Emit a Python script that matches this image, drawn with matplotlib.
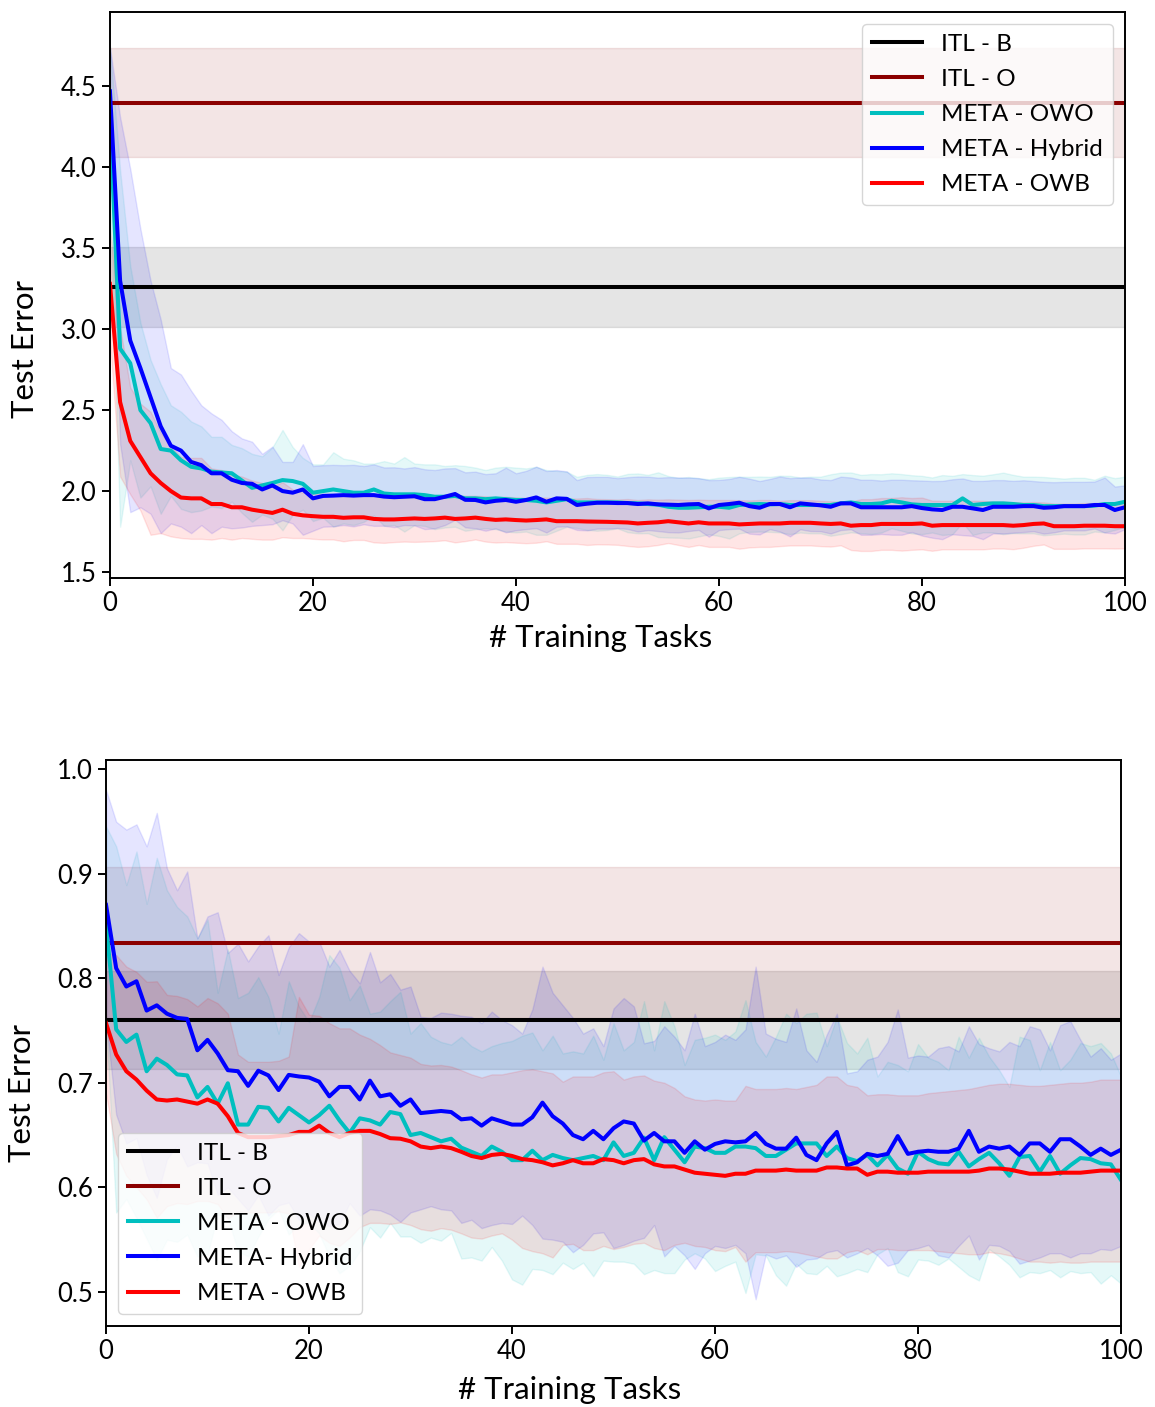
import matplotlib
matplotlib.use('agg')
import matplotlib.pyplot as plt

# number of training tasks
tasks = list(range(101))

# ---- top panel ----
top_itl_b, top_itl_b_std = 3.26, 0.245
top_itl_o, top_itl_o_std = 4.40, 0.335

top_owo_mean = [4.30, 2.88, 2.79, 2.50, 2.42, 2.26, 2.25, 2.19, 2.15, 2.14,
                2.12, 2.115, 2.11, 2.065, 2.02, 2.035, 2.05, 2.068, 2.062, 2.045,
                1.99, 2.0, 2.01, 2.0, 1.99, 1.99, 2.01, 1.985, 1.98, 1.98,
                1.98, 1.975, 1.965, 1.965, 1.97, 1.955, 1.955, 1.95, 1.955, 1.95,
                1.945, 1.945, 1.94, 1.93, 1.94, 1.95, 1.93, 1.93, 1.93, 1.93,
                1.93, 1.926, 1.924, 1.92, 1.916, 1.903, 1.897, 1.897, 1.9, 1.903,
                1.903, 1.897, 1.914, 1.918, 1.92, 1.918, 1.92, 1.914, 1.914, 1.914,
                1.914, 1.914, 1.924, 1.93, 1.92, 1.92, 1.924, 1.94, 1.93, 1.918,
                1.914, 1.914, 1.914, 1.914, 1.955, 1.914, 1.92, 1.924, 1.924, 1.92,
                1.914, 1.914, 1.907, 1.907, 1.907, 1.907, 1.907, 1.91, 1.92, 1.92,
                1.934]
top_owo_std = [0.45, 1.1, 0.6, 0.54, 0.39, 0.40, 0.28, 0.30, 0.28, 0.26,
               0.215, 0.22, 0.175, 0.2, 0.21, 0.18, 0.22, 0.31, 0.21, 0.16,
               0.175, 0.165, 0.23, 0.2, 0.2, 0.18, 0.16, 0.2, 0.19, 0.23,
               0.19, 0.19, 0.2, 0.19, 0.19, 0.2, 0.19, 0.18, 0.19, 0.2,
               0.2, 0.195, 0.21, 0.2, 0.185, 0.17, 0.158, 0.17, 0.175, 0.17,
               0.16, 0.18, 0.185, 0.18, 0.2, 0.19, 0.185, 0.19, 0.18, 0.17,
               0.18, 0.19, 0.175, 0.17, 0.17, 0.17, 0.175, 0.18, 0.17, 0.175,
               0.175, 0.19, 0.19, 0.185, 0.18, 0.185, 0.18, 0.17, 0.175, 0.18,
               0.18, 0.17, 0.185, 0.18, 0.15, 0.185, 0.175, 0.18, 0.19, 0.18,
               0.175, 0.175, 0.18, 0.175, 0.17, 0.175, 0.175, 0.16, 0.175, 0.16,
               0.155]

top_hyb_mean = [4.47, 3.30, 2.93, 2.76, 2.58, 2.40, 2.28, 2.25, 2.18, 2.16,
                2.11, 2.11, 2.07, 2.05, 2.045, 2.01, 2.035, 2.0, 1.99, 2.01,
                1.955, 1.97, 1.972, 1.975, 1.972, 1.975, 1.975, 1.966, 1.962, 1.965,
                1.968, 1.95, 1.95, 1.965, 1.982, 1.946, 1.945, 1.93, 1.94, 1.945,
                1.934, 1.945, 1.961, 1.934, 1.955, 1.952, 1.914, 1.922, 1.928, 1.928,
                1.926, 1.926, 1.92, 1.924, 1.918, 1.916, 1.914, 1.918, 1.92, 1.893,
                1.914, 1.92, 1.928, 1.907, 1.897, 1.92, 1.92, 1.9, 1.924, 1.918,
                1.912, 1.903, 1.924, 1.924, 1.9, 1.9, 1.9, 1.9, 1.9, 1.907,
                1.895, 1.887, 1.883, 1.903, 1.903, 1.893, 1.883, 1.903, 1.903, 1.903,
                1.907, 1.907, 1.897, 1.9, 1.907, 1.907, 1.907, 1.914, 1.914, 1.883,
                1.9]
top_hyb_std = [0.27, 1.01, 1.06, 0.86, 0.72, 0.66, 0.48, 0.47, 0.44, 0.37,
               0.37, 0.33, 0.30, 0.275, 0.26, 0.22, 0.24, 0.18, 0.19, 0.28,
               0.2, 0.19, 0.19, 0.185, 0.19, 0.18, 0.19, 0.18, 0.185, 0.175,
               0.18, 0.185, 0.18, 0.175, 0.16, 0.17, 0.175, 0.175, 0.17, 0.2,
               0.176, 0.18, 0.19, 0.19, 0.175, 0.17, 0.154, 0.165, 0.16, 0.16,
               0.154, 0.16, 0.17, 0.165, 0.165, 0.17, 0.17, 0.165, 0.16, 0.175,
               0.155, 0.155, 0.16, 0.17, 0.165, 0.155, 0.17, 0.18, 0.16, 0.165,
               0.16, 0.165, 0.165, 0.16, 0.17, 0.17, 0.165, 0.17, 0.17, 0.16,
               0.17, 0.175, 0.18, 0.17, 0.175, 0.17, 0.18, 0.165, 0.165, 0.16,
               0.16, 0.155, 0.16, 0.155, 0.15, 0.15, 0.15, 0.145, 0.17, 0.145,
               0.135]

top_owb_mean = [3.28, 2.55, 2.31, 2.21, 2.11, 2.05, 2.00, 1.96, 1.955, 1.955,
                1.92, 1.92, 1.90, 1.90, 1.885, 1.875, 1.865, 1.885, 1.86, 1.85,
                1.845, 1.841, 1.841, 1.835, 1.838, 1.838, 1.828, 1.825, 1.825, 1.828,
                1.831, 1.828, 1.831, 1.836, 1.828, 1.831, 1.836, 1.828, 1.822, 1.825,
                1.821, 1.818, 1.821, 1.825, 1.814, 1.814, 1.814, 1.812, 1.811, 1.81,
                1.808, 1.806, 1.80, 1.804, 1.807, 1.814, 1.807, 1.80, 1.807, 1.80,
                1.80, 1.80, 1.794, 1.797, 1.80, 1.80, 1.80, 1.804, 1.804, 1.804,
                1.80, 1.797, 1.80, 1.786, 1.79, 1.79, 1.797, 1.797, 1.797, 1.797,
                1.80, 1.786, 1.79, 1.79, 1.79, 1.79, 1.79, 1.79, 1.79, 1.786,
                1.79, 1.797, 1.80, 1.783, 1.783, 1.783, 1.786, 1.786, 1.786, 1.783,
                1.783]
top_owb_std = [0.35, 0.46, 0.33, 0.33, 0.38, 0.31, 0.28, 0.25, 0.25, 0.25,
               0.22, 0.21, 0.2, 0.19, 0.18, 0.175, 0.165, 0.17, 0.15, 0.14,
               0.14, 0.14, 0.14, 0.145, 0.14, 0.14, 0.145, 0.145, 0.14, 0.14,
               0.145, 0.14, 0.14, 0.14, 0.145, 0.14, 0.135, 0.14, 0.14, 0.14,
               0.14, 0.14, 0.14, 0.135, 0.14, 0.14, 0.14, 0.145, 0.14, 0.14,
               0.14, 0.145, 0.145, 0.145, 0.14, 0.135, 0.14, 0.145, 0.14, 0.145,
               0.145, 0.145, 0.15, 0.145, 0.145, 0.145, 0.14, 0.14, 0.14, 0.14,
               0.14, 0.14, 0.135, 0.15, 0.16, 0.16, 0.16, 0.16, 0.165, 0.16,
               0.16, 0.155, 0.15, 0.15, 0.15, 0.15, 0.15, 0.145, 0.145, 0.145,
               0.14, 0.135, 0.13, 0.14, 0.14, 0.14, 0.14, 0.14, 0.14, 0.138,
               0.137]

# ---- bottom panel ----
bot_itl_b, bot_itl_b_std = 0.760, 0.047
bot_itl_o, bot_itl_o_std = 0.834, 0.072

bot_owo_mean = [0.852, 0.751, 0.739, 0.746, 0.711, 0.723, 0.717, 0.708, 0.707, 0.686,
                0.696, 0.680, 0.6995, 0.660, 0.660, 0.677, 0.676, 0.663, 0.676, 0.669,
                0.662, 0.669, 0.678, 0.664, 0.652, 0.666, 0.664, 0.660, 0.672, 0.670,
                0.650, 0.652, 0.648, 0.644, 0.6465, 0.638, 0.634, 0.630, 0.639, 0.634,
                0.626, 0.626, 0.635, 0.626, 0.631, 0.628, 0.626, 0.628, 0.630, 0.626,
                0.643, 0.630, 0.633, 0.6475, 0.626, 0.648, 0.636, 0.624, 0.639, 0.6375,
                0.633, 0.633, 0.639, 0.639, 0.6375, 0.630, 0.630, 0.636, 0.642, 0.642,
                0.642, 0.630, 0.639, 0.628, 0.625, 0.631, 0.621, 0.631, 0.618, 0.613,
                0.634, 0.627, 0.623, 0.622, 0.634, 0.620, 0.627, 0.633, 0.623, 0.611,
                0.629, 0.630, 0.615, 0.630, 0.613, 0.621, 0.628, 0.627, 0.623, 0.622,
                0.607]
bot_owo_std = [0.093, 0.175, 0.15, 0.175, 0.16, 0.192, 0.167, 0.16, 0.152, 0.152,
               0.16, 0.106, 0.128, 0.121, 0.126, 0.124, 0.106, 0.084, 0.121, 0.104,
               0.096, 0.113, 0.144, 0.146, 0.127, 0.127, 0.102, 0.108, 0.106, 0.117,
               0.097, 0.105, 0.096, 0.095, 0.09, 0.106, 0.101, 0.10, 0.096, 0.104,
               0.114, 0.119, 0.113, 0.105, 0.114, 0.10, 0.104, 0.10, 0.115, 0.096,
               0.114, 0.101, 0.106, 0.1305, 0.105, 0.13, 0.118, 0.093, 0.102, 0.1055,
               0.113, 0.108, 0.11, 0.14, 0.1015, 0.095, 0.114, 0.13, 0.115, 0.124,
               0.125, 0.105, 0.124, 0.11, 0.103, 0.112, 0.085, 0.089, 0.099, 0.098,
               0.103, 0.097, 0.097, 0.09, 0.11, 0.104, 0.116, 0.092, 0.089, 0.085,
               0.115, 0.111, 0.097, 0.109, 0.099, 0.101, 0.11, 0.108, 0.115, 0.106,
               0.099]

bot_hyb_mean = [0.870, 0.8095, 0.792, 0.797, 0.769, 0.774, 0.766, 0.762, 0.761, 0.731,
                0.741, 0.728, 0.712, 0.711, 0.697, 0.7115, 0.707, 0.693, 0.7075, 0.706,
                0.705, 0.701, 0.687, 0.696, 0.696, 0.684, 0.702, 0.687, 0.689, 0.678,
                0.684, 0.671, 0.672, 0.673, 0.672, 0.665, 0.666, 0.659, 0.666, 0.663,
                0.660, 0.660, 0.667, 0.681, 0.668, 0.661, 0.650, 0.646, 0.654, 0.646,
                0.6565, 0.663, 0.661, 0.6447, 0.652, 0.644, 0.644, 0.633, 0.644, 0.636,
                0.6415, 0.644, 0.643, 0.644, 0.652, 0.6415, 0.637, 0.637, 0.6475, 0.631,
                0.626, 0.642, 0.653, 0.621, 0.624, 0.632, 0.630, 0.632, 0.649, 0.632,
                0.634, 0.635, 0.634, 0.634, 0.637, 0.654, 0.634, 0.639, 0.637, 0.639,
                0.631, 0.642, 0.642, 0.634, 0.646, 0.646, 0.639, 0.631, 0.637, 0.631,
                0.636]
bot_hyb_std = [0.11, 0.14, 0.15, 0.15, 0.157, 0.184, 0.139, 0.122, 0.141, 0.107,
               0.118, 0.135, 0.112, 0.122, 0.119, 0.119, 0.134, 0.11, 0.122, 0.137,
               0.13, 0.134, 0.124, 0.131, 0.111, 0.111, 0.123, 0.109, 0.115, 0.111,
               0.108, 0.092, 0.09, 0.094, 0.094, 0.099, 0.097, 0.098, 0.102, 0.097,
               0.095, 0.087, 0.103, 0.13, 0.118, 0.113, 0.112, 0.101, 0.098, 0.089,
               0.1145, 0.118, 0.112, 0.093, 0.088, 0.11, 0.10, 0.098, 0.122, 0.099,
               0.0975, 0.102, 0.098, 0.107, 0.159, 0.1055, 0.105, 0.102, 0.1235, 0.10,
               0.094, 0.104, 0.113, 0.088, 0.087, 0.09, 0.095, 0.107, 0.121, 0.092,
               0.092, 0.09, 0.099, 0.101, 0.093, 0.10, 0.103, 0.094, 0.093, 0.10,
               0.104, 0.112, 0.109, 0.097, 0.109, 0.113, 0.102, 0.094, 0.096, 0.091,
               0.092]

bot_owb_mean = [0.757, 0.727, 0.711, 0.703, 0.6925, 0.684, 0.683, 0.684, 0.682, 0.680,
                0.684, 0.680, 0.668, 0.652, 0.648, 0.648, 0.648, 0.649, 0.650, 0.653,
                0.653, 0.659, 0.652, 0.648, 0.652, 0.654, 0.654, 0.651, 0.647, 0.6465,
                0.644, 0.639, 0.6375, 0.639, 0.6375, 0.634, 0.630, 0.628, 0.631, 0.632,
                0.630, 0.627, 0.626, 0.624, 0.621, 0.623, 0.626, 0.623, 0.623, 0.627,
                0.626, 0.623, 0.626, 0.627, 0.622, 0.620, 0.620, 0.617, 0.614, 0.613,
                0.612, 0.611, 0.613, 0.613, 0.616, 0.616, 0.616, 0.617, 0.616, 0.616,
                0.616, 0.619, 0.619, 0.618, 0.618, 0.612, 0.615, 0.615, 0.614, 0.614,
                0.614, 0.615, 0.615, 0.615, 0.615, 0.615, 0.616, 0.618, 0.618, 0.617,
                0.615, 0.613, 0.613, 0.613, 0.614, 0.614, 0.614, 0.615, 0.616, 0.616,
                0.616]
bot_owb_std = [0.067, 0.095, 0.10, 0.103, 0.104, 0.113, 0.101, 0.099, 0.098, 0.093,
               0.097, 0.096, 0.098, 0.075, 0.072, 0.072, 0.072, 0.072, 0.075, 0.129,
               0.112, 0.105, 0.105, 0.104, 0.10, 0.092, 0.088, 0.085, 0.082, 0.08,
               0.08, 0.079, 0.079, 0.078, 0.078, 0.078, 0.078, 0.077, 0.077, 0.076,
               0.08, 0.085, 0.087, 0.087, 0.088, 0.078, 0.08, 0.083, 0.083, 0.083,
               0.085, 0.08, 0.08, 0.08, 0.08, 0.08, 0.075, 0.07, 0.07, 0.07,
               0.072, 0.072, 0.07, 0.084, 0.078, 0.078, 0.078, 0.078, 0.078, 0.08,
               0.082, 0.087, 0.087, 0.08, 0.078, 0.076, 0.074, 0.074, 0.074, 0.074,
               0.074, 0.075, 0.076, 0.077, 0.078, 0.079, 0.08, 0.08, 0.081, 0.082,
               0.083, 0.084, 0.084, 0.085, 0.085, 0.086, 0.086, 0.086, 0.087, 0.087,
               0.087]

plt.rcParams['font.family'] = ['Lato', 'DejaVu Sans']
plt.rcParams['axes.linewidth'] = 1.4


def band(ax, mean, std, color, label, lw=2.9):
    lo = [m - s for m, s in zip(mean, std)]
    hi = [m + s for m, s in zip(mean, std)]
    ax.fill_between(tasks, lo, hi, color=color, alpha=0.1)
    ax.plot(tasks, mean, color=color, lw=lw, label=label)


def flat(ax, value, std, color, label, lw=2.9):
    ax.axhspan(value - std, value + std, color=color, alpha=0.1)
    ax.axhline(value, color=color, lw=lw, label=label)


def panel(ax, itl_b, itl_o, owo, hyb, owb, hyb_label, ylim, legend_loc):
    flat(ax, itl_b[0], itl_b[1], 'k', 'ITL - B')
    flat(ax, itl_o[0], itl_o[1], 'darkred', 'ITL - O')
    band(ax, owo[0], owo[1], 'c', 'META - OWO')
    band(ax, hyb[0], hyb[1], 'b', hyb_label)
    band(ax, owb[0], owb[1], 'r', 'META - OWB')
    ax.set_xlim(0, 100)
    ax.set_ylim(*ylim)
    ax.set_xticks([0, 20, 40, 60, 80, 100])
    ax.tick_params(labelsize=18.5, length=6, width=1.4)
    ax.set_xlabel('# Training Tasks', fontsize=22.5, va='center')
    ax.set_ylabel('Test Error', fontsize=22.5, va='center')
    ax.legend(loc=legend_loc, fontsize=17.5, handlelength=2.05, borderaxespad=0.5,
              labelspacing=0.58)


fig = plt.figure(figsize=(11.55, 14.07), dpi=100)
ax1 = fig.add_axes([0.0952, 0.5892, 0.8788, 0.4023])
ax2 = fig.add_axes([0.0918, 0.0576, 0.8788, 0.4023])

panel(ax1, (top_itl_b, top_itl_b_std), (top_itl_o, top_itl_o_std),
      (top_owo_mean, top_owo_std), (top_hyb_mean, top_hyb_std),
      (top_owb_mean, top_owb_std), 'META - Hybrid', (1.463, 4.96), 'upper right')
ax1.set_yticks([1.5, 2.0, 2.5, 3.0, 3.5, 4.0, 4.5])
ax1.xaxis.set_label_coords(0.483, -0.106)
ax1.yaxis.set_label_coords(-0.084, 0.405)

panel(ax2, (bot_itl_b, bot_itl_b_std), (bot_itl_o, bot_itl_o_std),
      (bot_owo_mean, bot_owo_std), (bot_hyb_mean, bot_hyb_std),
      (bot_owb_mean, bot_owb_std), 'META- Hybrid', (0.4675, 1.0086), 'lower left')
ax2.set_yticks([0.5, 0.6, 0.7, 0.8, 0.9, 1.0])
ax2.xaxis.set_label_coords(0.457, -0.113)
ax2.yaxis.set_label_coords(-0.083, 0.412)

fig.savefig('out.png', dpi=100)
